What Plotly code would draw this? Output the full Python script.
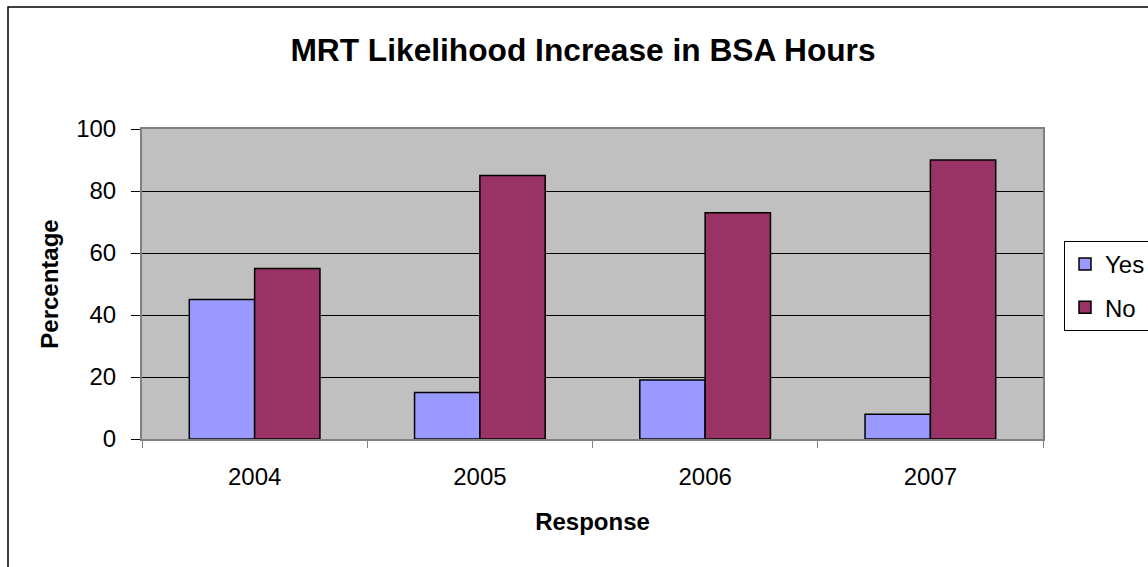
import plotly.graph_objects as go

categories = ["2004", "2005", "2006", "2007"]
yes_values = [45, 15, 19, 8]
no_values = [55, 85, 73, 90]
series_names = ["Yes", "No"]
y_ticks = [0, 20, 40, 60, 80, 100]

W, H = 1148, 567
L, R, T, B = 142, 105, 129, 128
pw, ph = W - L - R, H - T - B

def px_x(p):
    return (p - L) / pw

def px_y(p):
    return 1 - (p - T) / ph

fig = go.Figure()
fig.add_trace(go.Bar(x=categories, y=yes_values, name=series_names[0], legendgroup="g1",
                     marker=dict(color="#9999FF", line=dict(color="black", width=1.5))))
fig.add_trace(go.Bar(x=categories, y=no_values, name=series_names[1], legendgroup="g2",
                     marker=dict(color="#993366", line=dict(color="black", width=1.5))))

font_main = "Liberation Sans, Arial, sans-serif"

fig.update_layout(
    width=W, height=H,
    margin=dict(l=L, r=R, t=T, b=B, autoexpand=False),
    paper_bgcolor="white",
    plot_bgcolor="#C0C0C0",
    barmode="group",
    bargap=0.42,
    bargroupgap=0,
    font=dict(family=font_main, size=24, color="black"),
    title=dict(text="<b>MRT Likelihood Increase in BSA Hours</b>",
               x=px_x(583), xref="paper", xanchor="center",
               y=1 - 50 / H, yref="container", yanchor="middle",
               font=dict(family=font_main, size=31.7, color="black")),
    xaxis=dict(
        type="category",
        showgrid=False,
        showline=True, linecolor="#808080", linewidth=2, mirror=True,
        ticks="outside", tickson="boundaries", ticklen=7, tickcolor="#808080", tickwidth=1,
        tickfont=dict(size=24),
        ticklabelstandoff=15,
        title=dict(text="<b>Response</b>", font=dict(size=24), standoff=24),
    ),
    yaxis=dict(
        range=[0, 100],
        tickvals=y_ticks,
        showgrid=True, gridcolor="black", gridwidth=1,
        showline=True, linecolor="#808080", linewidth=2, mirror=True,
        ticks="outside", ticklen=9, tickcolor="black", tickwidth=1,
        tickfont=dict(size=24),
        ticklabelstandoff=10,
        zeroline=False,
        title=dict(text="<b>Percentage</b>", font=dict(size=24), standoff=11),
    ),
    legend=dict(
        x=px_x(1064), xanchor="left",
        y=px_y(241), yanchor="top",
        bordercolor="black", borderwidth=1,
        bgcolor="white",
        font=dict(size=24),
        itemwidth=30,
        tracegroupgap=9,
    ),
    showlegend=True,
)

# outer chart border
fig.add_shape(type="rect", xref="paper", yref="paper",
              x0=px_x(8), x1=px_x(1170), y0=px_y(7), y1=px_y(600),
              line=dict(color="black", width=1.5), fillcolor="rgba(0,0,0,0)", layer="below")

fig.write_html("out.html")
